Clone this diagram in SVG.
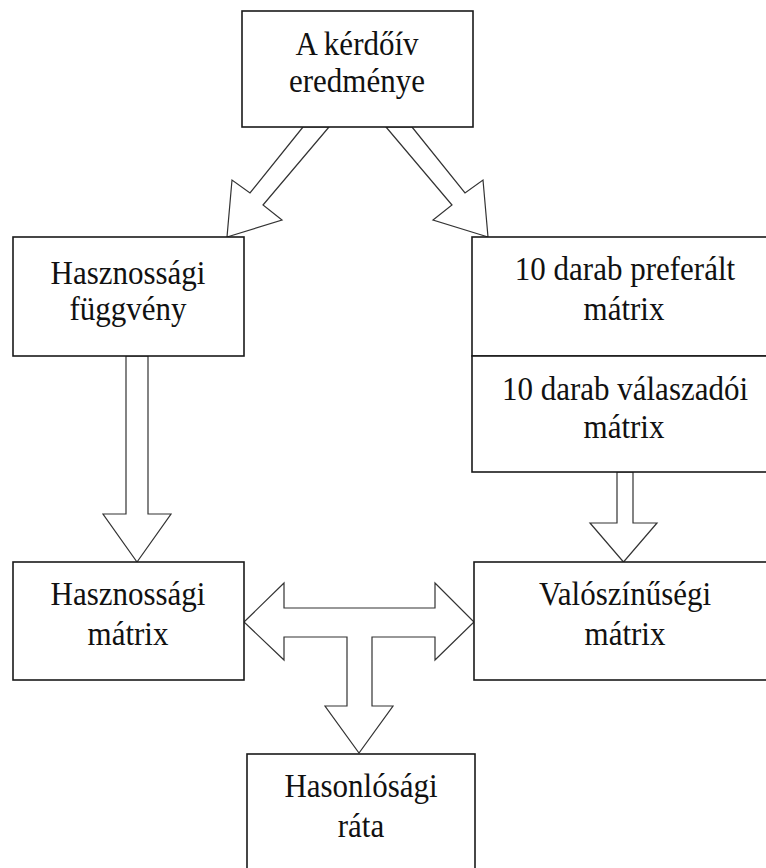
<svg xmlns="http://www.w3.org/2000/svg" width="766" height="868" viewBox="0 0 766 868">
<style>
.box{fill:#fff;stroke:#1a1a1a;stroke-width:1.6}
.arr{fill:#fff;stroke:#333;stroke-width:1.2;stroke-linejoin:miter}
.t{font-family:"Liberation Serif","Times New Roman",serif;font-size:31px;fill:#111;text-anchor:middle}
</style>
<rect width="766" height="868" fill="#fff"/>
<g id="connectors">
<polygon class="arr" points="303,127 250,193 232,180 227,237 282,220 263,205 329,127"/>
<polygon class="arr" points="412,127 465,193 483,180 488,237 433,220 452,205 386,127"/>
<polygon class="arr" points="126,356 148,356 148,514 171,514 137,562 103,514 126,514"/>
<polygon class="arr" points="617,472 633,472 633,523 657,523 623.5,562 590,523 617,523"/>
<polygon class="arr" points="244,622 284,583 284,608 435,608 435,583 474,622 435,660 435,637 372,637 372,706 393,706 359,753 325,706 347,706 347,637 284,637 284,660"/>
</g>
<g id="n_kerdoiv">
<rect class="box" x="242" y="11" width="231" height="116"/>
<text class="t" transform="translate(357,55) scale(1,1.12)">A kérdőív</text>
<text class="t" transform="translate(357,92) scale(1,1.12)">eredménye</text>
</g>
<g id="n_hasznossagi_fuggveny">
<rect class="box" x="13" y="237" width="231" height="119"/>
<text class="t" transform="translate(128,284) scale(1,1.12)">Hasznossági</text>
<text class="t" transform="translate(128,320) scale(1,1.12)">függvény</text>
</g>
<g id="n_preferalt">
<rect class="box" x="472" y="237" width="320" height="119"/>
<text class="t" transform="translate(625,280) scale(1,1.12)">10 darab preferált</text>
<text class="t" transform="translate(624,320) scale(1,1.12)">mátrix</text>
</g>
<g id="n_valaszadoi">
<rect class="box" x="472" y="356" width="320" height="116"/>
<text class="t" transform="translate(625,400) scale(1,1.12)">10 darab válaszadói</text>
<text class="t" transform="translate(624,438) scale(1,1.12)">mátrix</text>
</g>
<g id="n_hasznossagi_matrix">
<rect class="box" x="13" y="562" width="231" height="118"/>
<text class="t" transform="translate(128,605) scale(1,1.12)">Hasznossági</text>
<text class="t" transform="translate(128,645) scale(1,1.12)">mátrix</text>
</g>
<g id="n_valoszinusegi">
<rect class="box" x="474" y="562" width="320" height="118"/>
<text class="t" transform="translate(625,605) scale(1,1.12)">Valószínűségi</text>
<text class="t" transform="translate(625,645) scale(1,1.12)">mátrix</text>
</g>
<g id="n_hasonlosagi">
<rect class="box" x="247" y="754" width="228" height="140"/>
<text class="t" transform="translate(361,797) scale(1,1.12)">Hasonlósági</text>
<text class="t" transform="translate(361,837) scale(1,1.12)">ráta</text>
</g>
</svg>
